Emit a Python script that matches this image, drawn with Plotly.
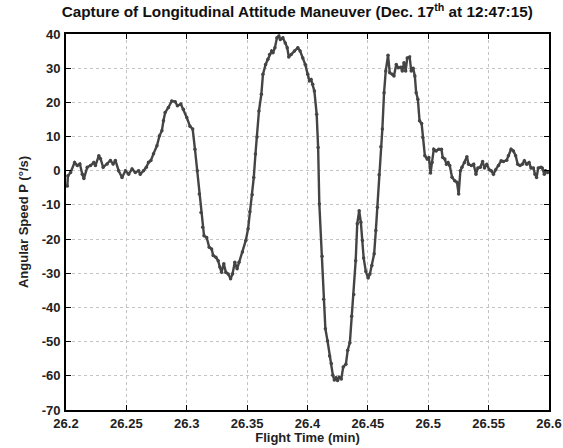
import plotly.graph_objects as go

# Flight time (min)
time_min = [
    26.2011, 26.2016, 26.2038, 26.2071, 26.2094, 26.2115, 26.2135, 26.2148, 26.2176, 26.2203,
    26.2230, 26.2244, 26.2272, 26.2286, 26.2308, 26.2341, 26.2368, 26.2390, 26.2409, 26.2436,
    26.2464, 26.2492, 26.2519, 26.2547, 26.2574, 26.2601, 26.2615, 26.2642, 26.2665, 26.2684,
    26.2703, 26.2725, 26.2753, 26.2774, 26.2794, 26.2807, 26.2821, 26.2848, 26.2876, 26.2904,
    26.2923, 26.2951, 26.2972, 26.3000, 26.3027, 26.3049, 26.3068, 26.3087, 26.3104, 26.3118,
    26.3132, 26.3143, 26.3165, 26.3186, 26.3206, 26.3219, 26.3241, 26.3260, 26.3274, 26.3288,
    26.3307, 26.3324, 26.3343, 26.3363, 26.3379, 26.3398, 26.3417, 26.3433, 26.3461, 26.3489,
    26.3508, 26.3523, 26.3542, 26.3555, 26.3569, 26.3582, 26.3598, 26.3618, 26.3631, 26.3653,
    26.3672, 26.3686, 26.3703, 26.3714, 26.3730, 26.3747, 26.3763, 26.3775, 26.3796, 26.3816,
    26.3832, 26.3845, 26.3865, 26.3892, 26.3920, 26.3939, 26.3961, 26.3981, 26.4002, 26.4016,
    26.4030, 26.4043, 26.4057, 26.4076, 26.4088, 26.4098, 26.4121, 26.4134, 26.4148, 26.4166,
    26.4183, 26.4197, 26.4210, 26.4222, 26.4236, 26.4249, 26.4263, 26.4280, 26.4296, 26.4318,
    26.4333, 26.4351, 26.4366, 26.4383, 26.4399, 26.4412, 26.4428, 26.4442, 26.4455, 26.4465,
    26.4483, 26.4502, 26.4517, 26.4533, 26.4552, 26.4566, 26.4579, 26.4593, 26.4607, 26.4620,
    26.4634, 26.4648, 26.4667, 26.4681, 26.4702, 26.4716, 26.4735, 26.4752, 26.4772, 26.4785,
    26.4799, 26.4813, 26.4826, 26.4846, 26.4859, 26.4875, 26.4889, 26.4900, 26.4914, 26.4928,
    26.4945, 26.4955, 26.4972, 26.4991, 26.5005, 26.5019, 26.5032, 26.5046, 26.5065, 26.5087,
    26.5109, 26.5120, 26.5137, 26.5151, 26.5164, 26.5178, 26.5197, 26.5219, 26.5238, 26.5252,
    26.5266, 26.5279, 26.5301, 26.5320, 26.5334, 26.5357, 26.5376, 26.5395, 26.5411, 26.5431,
    26.5450, 26.5466, 26.5485, 26.5505, 26.5521, 26.5540, 26.5559, 26.5582, 26.5604, 26.5623,
    26.5650, 26.5664, 26.5686, 26.5705, 26.5724, 26.5741, 26.5760, 26.5779, 26.5796, 26.5815,
    26.5835, 26.5851, 26.5870, 26.5884, 26.5897, 26.5911, 26.5933, 26.5944, 26.5961, 26.5971,
    26.5988,
]

# Angular speed P (deg/s)
speed_p = [
    -4.5, -1.5, -0.5, 2.4, 1.5, 2.0, -1.0, -2.3, 1.0, 1.5,
    2.4, 1.5, 4.4, 3.5, 1.0, 2.0, 3.0, 2.0, 3.0, 0.0,
    -2.0, 0.0, -1.0, 0.5, -0.5, 0.0, -1.0, 0.0, 1.0, 2.5,
    3.0, 5.0, 7.3, 10.2, 11.7, 14.6, 17.0, 18.5, 20.4, 20.2,
    19.0, 19.5, 18.0, 15.6, 13.0, 12.2, 6.3, 0.0, -6.8, -12.2,
    -16.5, -19.0, -19.5, -22.4, -22.9, -24.8, -25.3, -26.3, -28.2, -29.7,
    -27.2, -29.7, -30.2, -31.6, -30.2, -26.8, -28.7, -26.8, -23.8, -20.4,
    -17.0, -12.0, -7.0, -2.0, 4.9, 9.9, 17.5, 22.4, 28.2, 31.1,
    32.6, 34.0, 35.0, 34.5, 36.0, 38.9, 39.4, 38.4, 38.9, 37.4,
    36.0, 33.3, 34.0, 35.0, 36.0, 35.0, 33.0, 31.1, 28.2, 26.3,
    26.7, 25.3, 23.3, 16.5, 6.8, -9.7, -25.0, -37.6, -46.2, -49.8,
    -54.2, -56.4, -59.8, -61.2, -60.6, -61.4, -60.4, -60.9, -57.4, -56.6,
    -52.5, -50.3, -42.6, -36.2, -26.3, -15.5, -11.7, -15.1, -20.4, -25.5,
    -29.5, -31.4, -30.2, -27.7, -24.3, -17.5, -10.7, -1.2, 7.0, 12.2,
    22.8, 29.2, 33.8, 28.7, 28.2, 27.7, 31.1, 30.1, 30.3, 29.2,
    31.6, 29.2, 33.0, 33.3, 29.2, 30.0, 27.7, 22.8, 20.9, 14.6,
    13.8, 9.7, 4.4, 3.4, 3.9, -0.7, 2.4, 6.3, 5.8, 6.3,
    6.3, 3.9, 3.4, 1.9, 2.4, 1.5, -1.9, -2.9, -3.4, -6.8,
    0.0, 1.0, 2.4, 4.1, 1.9, 1.5, 1.9, -1.0, 0.8, 1.0,
    2.7, 0.8, 1.9, 0.3, 0.0, -1.0, 0.3, 1.5, 2.9, 2.7,
    3.1, 4.4, 6.3, 5.8, 4.4, 1.9, 1.5, 1.9, 2.9, 1.9,
    2.4, 0.8, 0.8, -1.0, -2.0, 0.8, 1.0, 0.8, -1.0, 0.0,
    -0.5,
]

x_tick_vals = [26.2, 26.25, 26.3, 26.35, 26.4, 26.45, 26.5, 26.55, 26.6]
x_tick_text = ["26.2", "26.25", "26.3", "26.35", "26.4", "26.45", "26.5", "26.55", "26.6"]
y_tick_vals = [40, 30, 20, 10, 0, -10, -20, -30, -40, -50, -60, -70]
y_tick_text = ["40", "30", "20", "10", "0", "-10", "-20", "-30", "-40", "-50", "-60", "-70"]

FONT = "Liberation Sans, Arial, sans-serif"
LINE_COL = "#444444"
TXT = "#222222"

fig = go.Figure()
fig.add_trace(go.Scatter(
    x=time_min, y=speed_p, mode="lines+markers",
    line=dict(color=LINE_COL, width=2.4),
    marker=dict(color=LINE_COL, size=3.5),
    showlegend=False,
))

axis_common = dict(
    showline=True, linecolor="black", linewidth=1.8, mirror="allticks",
    ticks="inside", ticklen=5, tickwidth=1.3, tickcolor="black",
    showgrid=True, gridcolor="#c4c4c4", griddash="dot", gridwidth=1,
    zeroline=False, automargin=False,
    tickfont=dict(family=FONT, size=13, color=TXT, weight="bold"),
)

fig.update_xaxes(
    range=[26.2, 26.6], tickmode="array", tickvals=x_tick_vals, ticktext=x_tick_text,
    ticklabelstandoff=0,
    title=dict(text="Flight Time (min)", font=dict(family=FONT, size=13, color=TXT, weight="bold"), standoff=3),
    **axis_common,
)
fig.update_yaxes(
    range=[-70, 40], tickmode="array", tickvals=y_tick_vals, ticktext=y_tick_text,
    ticklabelstandoff=1,
    title=dict(text="Angular Speed P (°/s)", font=dict(family=FONT, size=13, color=TXT, weight="bold"), standoff=10),
    **axis_common,
)

fig.update_layout(
    width=563, height=448,
    margin=dict(l=66, r=14, t=34, b=38),
    paper_bgcolor="white", plot_bgcolor="white",
    title=dict(
        text="Capture of Longitudinal Attitude Maneuver (Dec. 17<sup>th</sup> at 12:47:15)",
        x=0.528, xanchor="center", y=0.985, yanchor="top",
        font=dict(family=FONT, size=15.3, color="#111111", weight="bold"),
    ),
)

fig.write_html("out.html")
